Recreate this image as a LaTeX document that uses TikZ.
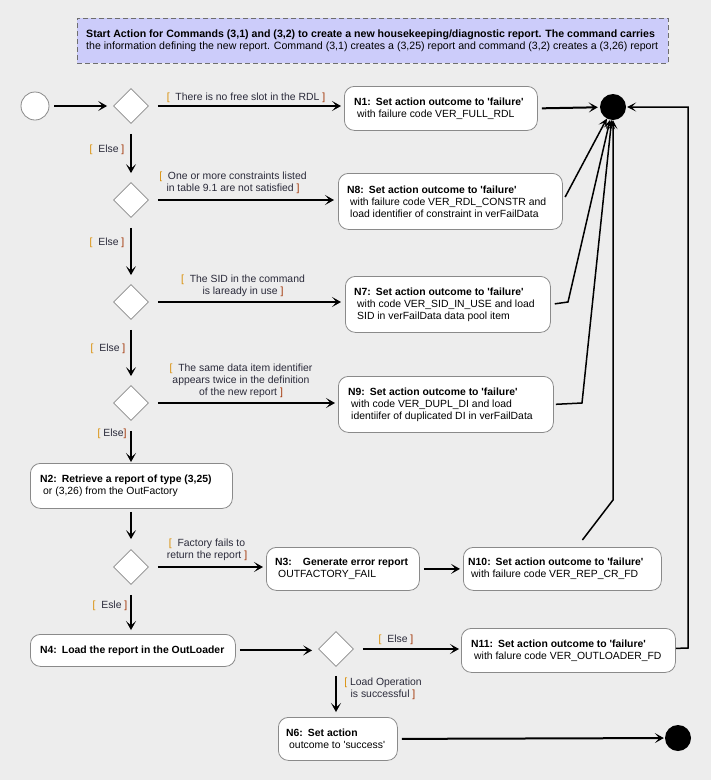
\documentclass[tikz,border=0pt]{standalone}
\usepackage{fontspec}
\setmainfont{Liberation Sans}
\usetikzlibrary{shapes.geometric,arrows.meta}
\definecolor{bggray}{HTML}{EDEDED}
\definecolor{boxgray}{HTML}{8A8A8A}
\definecolor{notefill}{HTML}{CCCCFA}
\definecolor{notedraw}{HTML}{6E6E6E}
\definecolor{labelcol}{HTML}{2A2A3A}
\definecolor{brkA}{HTML}{D98C00}
\definecolor{brkB}{HTML}{A03000}
\newcommand\dgfont{\fontsize{10.4}{12}\selectfont}
\newcommand\notefont{\fontsize{10.6}{12}\selectfont}
\newcommand\LBk{\textcolor{brkA}{[}}
\newcommand\RBk{\textcolor{brkB}{]}}
\newcommand\sq{\textquotesingle}
\tikzset{
  arr/.style={draw=black, line width=2pt, -{Stealth[length=9pt,width=10pt,inset=4.5pt]}},
  arrthin/.style={draw=black, line width=1.5pt, -{Stealth[length=9pt,width=9pt,inset=4.5pt]}},
  box/.style={draw=boxgray, fill=white, rounded corners=10pt, line width=0.8pt, inner sep=0pt, anchor=north west},
  dia/.style={diamond, draw=boxgray, fill=white, minimum width=35pt, minimum height=35pt, inner sep=0pt, line width=0.8pt},
  txt/.style={anchor=west, align=left, inner sep=0pt, font=\dgfont},
  lbl/.style={align=center, inner sep=0pt, text=labelcol, font=\dgfont},
}
\begin{document}
\begin{tikzpicture}[x=1pt,y=-1pt]
\useasboundingbox (0,0) rectangle (711,780);
\fill[bggray] (0,0) rectangle (711,780);

% note
\node[draw=notedraw, dash pattern=on 5pt off 3pt, fill=notefill, line width=0.8pt, minimum width=591pt, minimum height=45pt, anchor=north west, inner sep=0pt] (note) at (77,18) {};
\node[txt, anchor=west, font=\notefont] (notetxt) at ([xshift=9pt]note.west) {\textbf{Start Action for Commands (3,1) and (3,2) to create a new housekeeping/diagnostic report. The command carries}\\the information defining the new report. Command (3,1) creates a (3,25) report and command (3,2) creates a (3,26) report};

% start / ends
\node[circle, draw=boxgray, fill=white, minimum size=28pt, inner sep=0pt, line width=0.8pt] (start) at (35,106) {};
\node[circle, fill=black, minimum size=26pt, inner sep=0pt] (end1) at (613,107) {};
\node[circle, fill=black, minimum size=26pt, inner sep=0pt] (end2) at (678,738) {};

% diamonds
\node[dia] (d1) at (131,106) {};
\node[dia] (d2) at (131,200) {};
\node[dia] (d3) at (131,302) {};
\node[dia] (d4) at (131,403) {};
\node[dia] (d5) at (131,567) {};
\node[dia] (d6) at (336,649) {};

% boxes
\node[box, minimum width=193pt, minimum height=44pt] (n1) at (344,86) {};
\node[txt] (t1) at ([xshift=10pt]n1.west) {\textbf{N1:\hspace{5pt}Set action outcome to \sq failure\sq}\\\hspace*{3pt}with failure code VER\_FULL\_RDL};

\node[box, minimum width=224pt, minimum height=56pt] (n8) at (338,173) {};
\node[txt] (t8) at ([xshift=9pt]n8.west) {\textbf{N8:\hspace{5pt}Set action outcome to \sq failure\sq}\\\hspace*{3pt}with failure code VER\_RDL\_CONSTR and\\\hspace*{3pt}load identifier of constraint in verFailData};

\node[box, minimum width=205pt, minimum height=56pt] (n7) at (345,276) {};
\node[txt] (t7) at ([xshift=9pt]n7.west) {\textbf{N7:\hspace{5pt}Set action outcome to \sq failure\sq}\\\hspace*{3pt}with code VER\_SID\_IN\_USE and load\\\hspace*{3pt}SID in verFailData data pool item};

\node[box, minimum width=215pt, minimum height=56pt] (n9) at (338,376) {};
\node[txt] (t9) at ([xshift=10pt]n9.west) {\textbf{N9:\hspace{5pt}Set action outcome to \sq failure\sq}\\\hspace*{3pt}with code VER\_DUPL\_DI and load\\\hspace*{3pt}identiifer of duplicated DI in verFailData};

\node[box, minimum width=202pt, minimum height=45pt] (n2) at (30,463) {};
\node[txt] (t2) at ([xshift=10pt]n2.west) {\textbf{N2:\hspace{5pt}Retrieve a report of type (3,25)}\\\hspace*{3pt}or (3,26) from the OutFactory};

\node[box, minimum width=153pt, minimum height=43pt] (n3) at (266,547) {};
\node[txt] (t3) at ([xshift=9pt]n3.west) {\textbf{N3:\hspace{11pt}Generate error report}\\\hspace*{3pt}OUTFACTORY\_FAIL};

\node[box, minimum width=198pt, minimum height=43pt] (n10) at (463,547) {};
\node[txt] (t10) at ([xshift=5pt]n10.west) {\textbf{N10:\hspace{5pt}Set action outcome to \sq failure\sq}\\\hspace*{3pt}with failure code VER\_REP\_CR\_FD};

\node[box, minimum width=205pt, minimum height=32pt] (n4) at (30,634) {};
\node[txt] (t4) at ([xshift=10pt]n4.west) {\textbf{N4:\hspace{5pt}Load the report in the OutLoader}};

\node[box, minimum width=214pt, minimum height=44pt] (n11) at (461,628) {};
\node[txt] (t11) at ([xshift=10pt]n11.west) {\textbf{N11:\hspace{5pt}Set action outcome to \sq failure\sq}\\\hspace*{3pt}with falure code VER\_OUTLOADER\_FD};

\node[box, minimum width=119pt, minimum height=43pt] (n6) at (278,717) {};
\node[txt] (t6) at ([xshift=8pt]n6.west) {\textbf{N6:\hspace{5pt}Set action}\\\hspace*{3pt}outcome to \sq success\sq};

% labels
\node[lbl] (l1) at (246,98) {\LBk\ \ There is no free slot in the RDL \RBk};
\node[lbl] (l2) at (233,183) {\LBk\ \ One or more constraints listed\\in table 9.1 are not satisfied \RBk};
\node[lbl] (l3) at (243,286) {\LBk\ \ The SID in the command\\is laready in use \RBk};
\node[lbl] (l4) at (241,381) {\LBk\ \ The same data item identifier\\appears twice in the definition\\of the new report \RBk};
\node[lbl] (l5) at (207,550) {\LBk\ \ Factory fails to\\return the report \RBk};
\node[lbl] (l6) at (383,689) {\LBk\ Load Operation\\is successful \RBk};
\node[lbl] (e1) at (107,150) {\LBk\ \ Else \RBk};
\node[lbl] (e2) at (107,243) {\LBk\ \ Else \RBk};
\node[lbl] (e3) at (108,349) {\LBk\ \ Else \RBk};
\node[lbl] (e4) at (112,434) {\LBk\ Else\RBk};
\node[lbl] (e5) at (110,606) {\LBk\ \ Esle \RBk};
\node[lbl] (e6) at (396,640) {\LBk\ \ Else \RBk};

% main flow
\draw[arr, shorten <=5pt, shorten >=6pt] (start) -- (d1);
\draw[arr, shorten <=9pt, shorten >=3pt] (d1.east) -- (n1.west |- d1.east);
\draw[arr, shorten <=4pt, shorten >=2pt] (n1.east) -- (end1);
\draw[arr, shorten <=10pt, shorten >=9pt] (d1.south) -- (d2.north);
\draw[arr, shorten <=9pt, shorten >=4pt] (d2.east) -- (n8.west |- d2.east);
\draw[arr, shorten <=10pt, shorten >=9pt] (d2.south) -- (d3.north);
\draw[arr, shorten <=9pt, shorten >=4pt] (d3.east) -- (n7.west |- d3.east);
\draw[arr, shorten <=10pt, shorten >=9pt] (d3.south) -- (d4.north);
\draw[arr, shorten <=9pt, shorten >=3pt] (d4.east) -- (n9.west |- d4.east);
\draw[arr, shorten <=10pt, shorten >=1pt] (d4.south) -- (n2.north -| d4.south);
\draw[arr, shorten <=3pt, shorten >=10pt] (n2.south -| d5.north) -- (d5.north);
\draw[arr, shorten <=9pt, shorten >=3pt] (d5.east) -- (n3.west |- d5.east);
\draw[arr, shorten <=4pt, shorten >=3pt] (n3.east) -- (n10.west);
\draw[arr, shorten <=10pt, shorten >=4pt] (d5.south) -- (n4.north -| d5.south);
\draw[arr, shorten <=4pt, shorten >=6pt] (n4.east) -- (d6.west |- n4.east);
\draw[arr, shorten <=9pt, shorten >=2pt] (d6.east) -- (n11.west |- d6.east);
\draw[arr, shorten <=9pt, shorten >=5pt] (d6.south) -- (n6.north -| d6.south);
\draw[arr, shorten <=4pt, shorten >=1pt] (n6.east) -- (end2);

% converging to end1
\coordinate (k7) at (568,302);
\coordinate (k9) at (582,403);
\coordinate (k10) at (613,500);
\coordinate (r1) at (688,648);
\coordinate (r2) at (688,107);
\draw[arrthin, shorten <=5pt] (n8.east) -- (end1);
\draw[arrthin, shorten <=4pt] (n7.east) -- (k7) -- (end1);
\draw[arrthin, shorten <=2pt] (n9.east) -- (k9) -- (end1);
\draw[arrthin] ([xshift=20pt,yshift=7pt]n10.north) -- (k10) -- (end1);
\draw[arrthin, shorten >=1pt] ([yshift=2pt]n11.east) -- (r1) -- (r2) -- (end1);
\end{tikzpicture}
\end{document}
